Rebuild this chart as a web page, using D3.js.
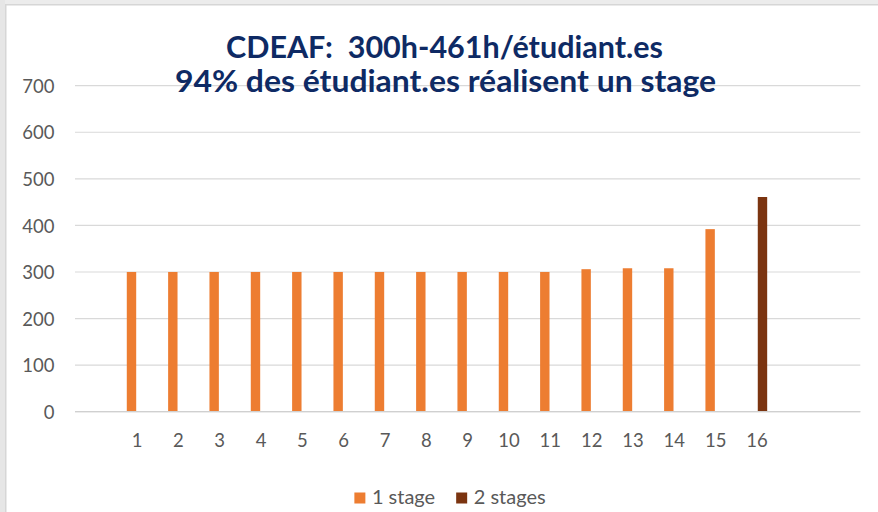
<!DOCTYPE html>
<html>
<head>
<meta charset="utf-8">
<script src="https://cdn.jsdelivr.net/npm/d3@7"></script>
<style>
  html, body { margin: 0; padding: 0; background: #fff; }
  svg { display: block; }
</style>
</head>
<body>
<svg id="chart" width="878" height="512"></svg>
<script>
// ---- data ----
const categories = ["", "1", "2", "3", "4", "5", "6", "7", "8", "9", "10", "11", "12", "13", "14", "15", "16", "", ""];
const seriesNames = ["1 stage", "2 stages"];
const oneStage = [null, 300, 300, 300, 300, 300, 300, 300, 300, 300, 300, 300, 306, 308, 308, 392, null, null, null];
const twoStages = [null, null, null, null, null, null, null, null, null, null, null, null, null, null, null, null, 461, null, null];
const yTicks = [0, 100, 200, 300, 400, 500, 600, 700];
const titleLines = ["CDEAF:  300h-461h/étudiant.es", "94% des étudiant.es réalisent un stage"];
const colors = ["#ED7D31", "#7B3410"];

// ---- layout ----
const W = 878, H = 512;
const plot = { left: 75, right: 860.3, top: 85.7, bottom: 411.7 };
const font = "Lato, 'Open Sans', sans-serif";
const textGray = "#595959";
const gridGray = "#d9d9d9";

const svg = d3.select("#chart");

// frame (gray edges of the screenshot)
svg.append("rect").attr("x", 0).attr("y", 0).attr("width", W).attr("height", 5).attr("fill", "#ececec");
svg.append("rect").attr("x", 0).attr("y", 4).attr("width", W).attr("height", 1.5).attr("fill", "#d6d6d6");
svg.append("rect").attr("x", 0).attr("y", 0).attr("width", 5).attr("height", H).attr("fill", "#e6e6e6");
svg.append("rect").attr("x", 5).attr("y", 4).attr("width", 1.5).attr("height", H).attr("fill", "#d6d6d6");

// scales
const idx = categories.map((d, i) => i);
const x0 = d3.scaleBand().domain(idx).range([plot.left, plot.right]).padding(0);
const half = x0.bandwidth() * 0.247;
const x1 = d3.scaleBand().domain(seriesNames).range([-half, half]).paddingInner(0.1455).paddingOuter(0);
const y = d3.scaleLinear().domain([0, 700]).range([plot.bottom, plot.top]);

// gridlines
svg.append("g")
  .selectAll("line")
  .data(yTicks)
  .join("line")
  .attr("x1", plot.left).attr("x2", plot.right)
  .attr("y1", d => y(d)).attr("y2", d => y(d))
  .attr("stroke", gridGray).attr("stroke-width", 1.2);

// y axis labels
const yAxis = d3.axisLeft(y).tickValues(yTicks).tickSize(0).tickPadding(0);
const gy = svg.append("g").attr("transform", "translate(54.5,0)").call(yAxis);
gy.select(".domain").remove();
gy.selectAll("text").attr("font-family", font).attr("font-size", 18.5).attr("fill", textGray).attr("dy", "0.36em");

// x axis labels
const xAxis = d3.axisBottom(x0).tickFormat(i => categories[i]).tickSize(0).tickPadding(0);
const gx = svg.append("g").attr("transform", `translate(0,${plot.bottom})`).call(xAxis);
gx.select(".domain").remove();
gx.selectAll("text").attr("font-family", font).attr("font-size", 18.5).attr("fill", textGray).attr("dy", 0).attr("y", 35);

// bars
const seriesData = [oneStage, twoStages];
seriesData.forEach((vals, s) => {
  svg.append("g")
    .selectAll("rect")
    .data(vals.map((v, i) => ({ i, v })).filter(d => d.v != null))
    .join("rect")
    .attr("x", d => x0(d.i) + x0.bandwidth() / 2 + x1(seriesNames[s]))
    .attr("width", x1.bandwidth())
    .attr("y", d => y(d.v))
    .attr("height", d => y(0) - y(d.v))
    .attr("fill", colors[s]);
});

// baseline redraw
svg.append("line")
  .attr("x1", plot.left).attr("x2", plot.right)
  .attr("y1", y(0)).attr("y2", y(0))
  .attr("stroke", "#d0d0d0").attr("stroke-width", 1.2);

// title
const title = svg.append("text")
  .attr("text-anchor", "middle")
  .attr("font-family", font)
  .attr("font-weight", "bold")
  .attr("font-size", 30)
  .attr("fill", "#0E2A64")
  .style("white-space", "pre");
title.append("tspan").attr("x", 444.5).attr("y", 57.5)
  .attr("textLength", 437).attr("lengthAdjust", "spacingAndGlyphs").text(titleLines[0]);
title.append("tspan").attr("x", 445.5).attr("y", 91.5)
  .attr("textLength", 541).attr("lengthAdjust", "spacingAndGlyphs").text(titleLines[1]);

// legend
const legend = svg.append("g");
const items = legend.selectAll("g").data(seriesNames).join("g");
items.append("rect").attr("width", 11).attr("height", 11).attr("y", 492.5).attr("fill", (d, i) => colors[i]);
items.append("text").attr("x", 17.5).attr("y", 503.5)
  .attr("font-family", font).attr("font-size", 20).attr("fill", textGray).text(d => d);
let xpos = 0;
const widths = [];
items.each(function () { widths.push(17.5 + this.querySelector("text").getComputedTextLength()); });
const gap = 21;
const total = widths.reduce((a, b) => a + b, 0) + gap * (widths.length - 1);
xpos = 450 - total / 2;
items.attr("transform", (d, i) => {
  const t = `translate(${xpos},0)`;
  xpos += widths[i] + gap;
  return t;
});
</script>
</body>
</html>
